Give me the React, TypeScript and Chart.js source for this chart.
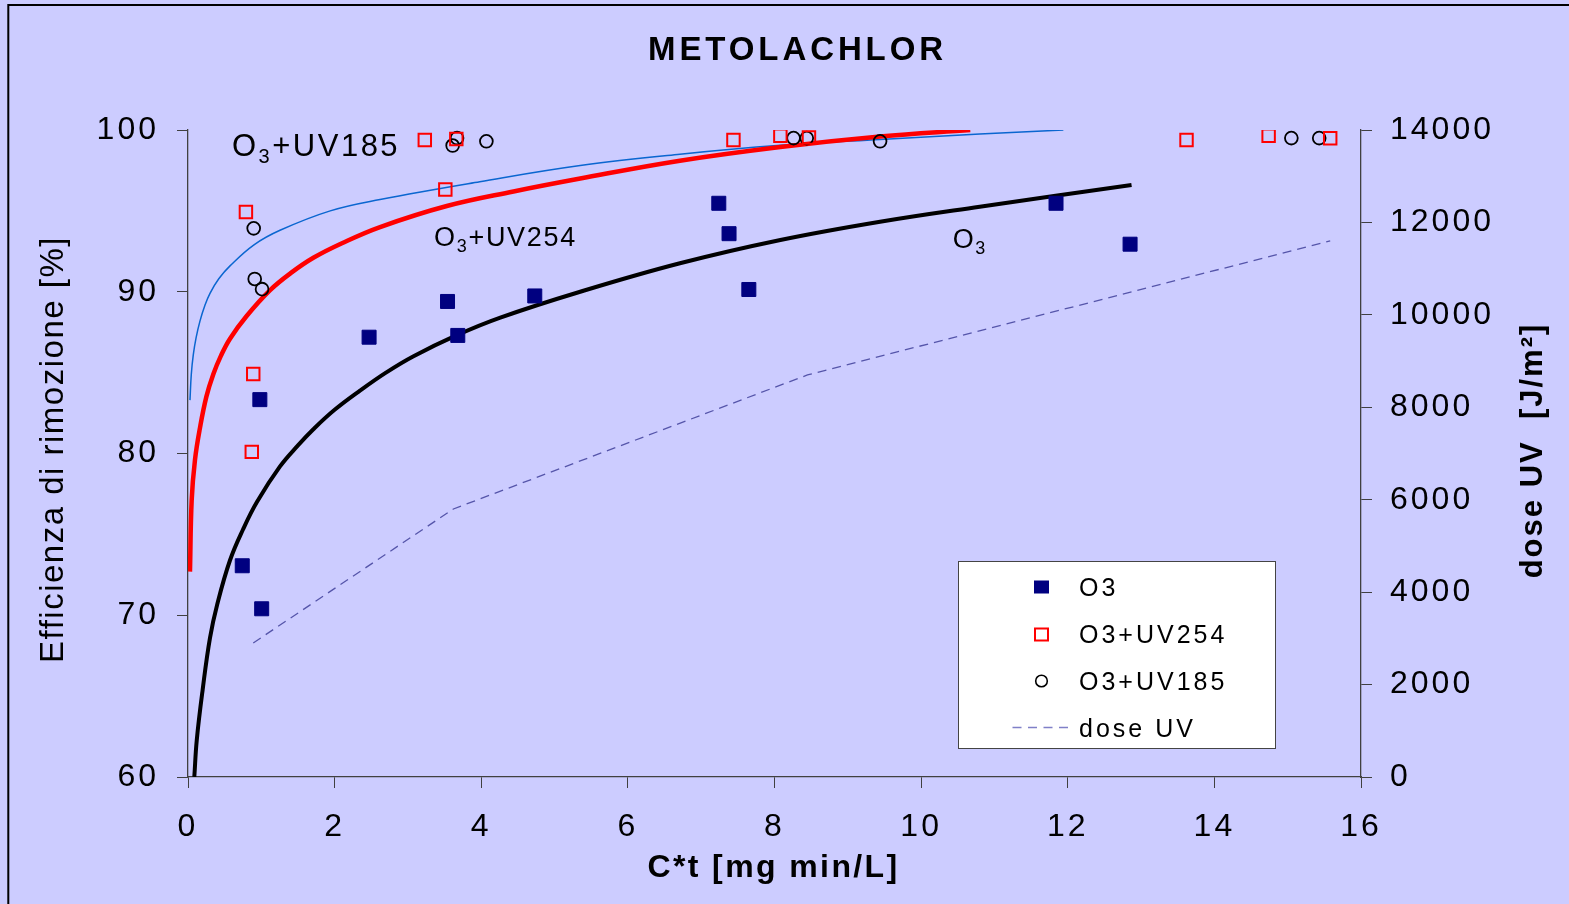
import React, { useEffect, useRef } from 'react';
import { Chart, registerables } from 'chart.js';

Chart.register(...registerables);

const W = 1569;
const H = 904;
const BG = '#CCCCFF';
const FONT = "'Liberation Sans', Arial, sans-serif";

// ---- axis ranges / tick labels ----
const xMin = 0, xMax = 16, xStep = 2;
const yMin = 60, yMax = 100, yStep = 10;
const y2Min = 0, y2Max = 14000, y2Step = 2000;

// ---- measured points ----
const o3X = [0.74, 1.005, 0.98, 2.47, 3.54, 3.68, 4.73, 7.24, 7.38, 7.65, 11.84, 12.85];
const o3Y = [73.06, 70.4, 83.33, 87.19, 89.4, 87.3, 89.74, 95.47, 93.59, 90.14, 95.47, 92.94];

const uv254X = [0.79, 0.89, 0.87, 3.23, 3.66, 3.51, 7.44, 8.08, 8.47, 13.62, 14.74, 15.58];
const uv254Y = [94.93, 84.91, 80.1, 99.38, 99.44, 96.32, 99.38, 99.65, 99.54, 99.38, 99.65, 99.49];

const uv185X = [0.896, 0.91, 1.01, 3.61, 3.67, 4.07, 8.26, 8.44, 9.44, 15.05, 15.43];
const uv185Y = [93.92, 90.79, 90.16, 99.04, 99.5, 99.3, 99.5, 99.5, 99.3, 99.5, 99.5];

// ---- trend curves ----
const trendO3X = [0.086, 0.12, 0.2, 0.3, 0.4, 0.573, 0.75, 0.94, 1.255, 1.5, 1.71, 2.0, 2.35, 2.7, 3.07, 3.66, 4.26, 5.35, 6.71, 8.08, 9.44, 10.8, 12.87];
const trendO3Y = [60, 62.3, 65.4, 68.6, 70.7, 73.4, 75.3, 77.0, 79.2, 80.5, 81.5, 82.7, 83.9, 85.0, 86.0, 87.3, 88.4, 90.0, 91.76, 93.2, 94.33, 95.26, 96.6];

const trend254X = [0.027, 0.05, 0.095, 0.164, 0.25, 0.345, 0.45, 0.573, 0.8, 1.12, 1.4, 1.71, 2.1, 2.62, 3.53, 4.44, 5.35, 6.71, 8.08, 9.44, 10.67];
const trend254Y = [72.7, 77.1, 79.6, 81.6, 83.5, 84.9, 86.05, 87.1, 88.5, 90.1, 91.15, 92.1, 93.0, 94.0, 95.3, 96.2, 97.0, 98.1, 98.95, 99.6, 100];

const trend185X = [0.027, 0.045, 0.072, 0.11, 0.164, 0.23, 0.3, 0.42, 0.573, 0.9, 1.255, 1.94, 2.62, 3.98, 5.35, 6.71, 8.08, 9.44, 10.8, 11.94];
const trend185Y = [83.3, 84.9, 86.1, 87.15, 88.2, 89.15, 89.9, 90.8, 91.6, 92.9, 93.8, 95.0, 95.7, 96.8, 97.8, 98.5, 99.05, 99.42, 99.75, 100];

// ---- UV dose (right axis) ----
const doseX = [0.89, 3.62, 8.45, 15.58];
const doseY = [2900, 5800, 8700, 11600];

// ---- texts ----
const titleText = 'METOLACHLOR';
const xTitle = 'C*t [mg min/L]';
const yTitle = 'Efficienza di rimozione [%]';
const y2Title = 'dose UV  [J/m\u00B2]';
const legendLabels = ['O3', 'O3+UV254', 'O3+UV185', 'dose UV'];

const pts = (xs: number[], ys: number[]) => xs.map((x, i) => ({ x, y: ys[i] }));

type Part = { t: string; sub?: boolean };

function drawRich(ctx: CanvasRenderingContext2D, x: number, y: number, parts: Part[], size: number, subSize: number, subDy: number, ls: number) {
  ctx.save();
  (ctx as any).letterSpacing = ls + 'px';
  ctx.textAlign = 'left';
  ctx.textBaseline = 'alphabetic';
  ctx.fillStyle = '#000';
  let cx = x;
  for (const p of parts) {
    ctx.font = `${p.sub ? subSize : size}px ${FONT}`;
    ctx.fillText(p.t, cx, p.sub ? y + subDy : y);
    cx += ctx.measureText(p.t).width;
  }
  ctx.restore();
}

function drawText(ctx: CanvasRenderingContext2D, text: string, x: number, y: number, font: string, ls: number, rot = 0, align: CanvasTextAlign = 'center') {
  ctx.save();
  (ctx as any).letterSpacing = ls + 'px';
  ctx.translate(x, y);
  if (rot) ctx.rotate(rot);
  ctx.font = font;
  ctx.textAlign = align;
  ctx.textBaseline = 'alphabetic';
  ctx.fillStyle = '#000';
  ctx.fillText(text, 0, 0);
  ctx.restore();
}

const bgPlugin = {
  id: 'bgFrame',
  beforeDraw(chart: any) {
    const ctx = chart.ctx as CanvasRenderingContext2D;
    ctx.save();
    ctx.fillStyle = BG;
    ctx.fillRect(0, 0, chart.width, chart.height);
    ctx.strokeStyle = '#000';
    ctx.lineWidth = 2;
    ctx.beginPath();
    ctx.moveTo(8.3, chart.height + 2);
    ctx.lineTo(8.3, 5);
    ctx.lineTo(chart.width + 2, 5);
    ctx.stroke();
    ctx.restore();
    (ctx as any).letterSpacing = '3px';
  },
};

const overlayPlugin = {
  id: 'overlay',
  afterDraw(chart: any) {
    const ctx = chart.ctx as CanvasRenderingContext2D;
    const xs = chart.scales.x;
    const ys = chart.scales.y;
    const ca = chart.chartArea;

    // titles
    drawText(ctx, titleText, (ca.left + ca.right) / 2 + 23, 60, `bold 33px ${FONT}`, 3.9);
    drawText(ctx, xTitle, (ca.left + ca.right) / 2 - 1, 877, `bold 32px ${FONT}`, 2.4);
    drawText(ctx, yTitle, 63, (ca.top + ca.bottom) / 2 - 4, `33px ${FONT}`, 1.5, -Math.PI / 2);
    drawText(ctx, y2Title, 1542, (ca.top + ca.bottom) / 2 - 3, `bold 31px ${FONT}`, 2, -Math.PI / 2);

    // curve annotations
    drawRich(ctx, xs.getPixelForValue(0.6), ys.getPixelForValue(98.39),
      [{ t: 'O' }, { t: '3', sub: true }, { t: '+UV185' }], 31, 20, 7, 2.5);
    drawRich(ctx, xs.getPixelForValue(3.356), ys.getPixelForValue(92.8),
      [{ t: 'O' }, { t: '3', sub: true }, { t: '+UV254' }], 27, 18, 6, 1.7);
    drawRich(ctx, xs.getPixelForValue(10.43), ys.getPixelForValue(92.7),
      [{ t: 'O' }, { t: '3', sub: true }], 27, 18, 6, 1.7);

    // legend
    const lx = ca.left + 770.5;
    const ly = ca.top + 431.5;
    const lw = 317;
    const lh = 187;
    ctx.save();
    ctx.fillStyle = '#FFFFFF';
    ctx.fillRect(lx, ly, lw, lh);
    ctx.strokeStyle = '#444';
    ctx.lineWidth = 1;
    ctx.strokeRect(lx, ly, lw, lh);
    const ds = chart.data.datasets;
    const mx = lx + 83;
    const tx = lx + 120.5;
    const rows = [25.5, 72.5, 119.5, 166];
    legendLabels.forEach((lab, i) => {
      const cy = ly + rows[i];
      ctx.save();
      if (i === 0) {
        ctx.fillStyle = ds[0].backgroundColor;
        ctx.fillRect(mx - 7.5, cy - 6.5, 15, 13);
      } else if (i === 1) {
        ctx.strokeStyle = ds[1].borderColor;
        ctx.lineWidth = 2;
        ctx.strokeRect(mx - 6.5, cy - 5.5, 13, 12);
      } else if (i === 2) {
        ctx.strokeStyle = ds[2].borderColor;
        ctx.lineWidth = 1.6;
        ctx.beginPath();
        ctx.arc(mx, cy, 5.8, 0, Math.PI * 2);
        ctx.stroke();
      } else {
        ctx.strokeStyle = '#8080C8';
        ctx.lineWidth = 1.5;
        ctx.setLineDash([9, 6.5]);
        ctx.beginPath();
        ctx.moveTo(mx - 29, cy);
        ctx.lineTo(mx + 27, cy);
        ctx.stroke();
      }
      ctx.restore();
      drawText(ctx, lab, tx, cy + 9, `25px ${FONT}`, 3, 0, 'left');
    });
    ctx.restore();
  },
};

export default function App() {
  const ref = useRef<HTMLCanvasElement>(null);

  useEffect(() => {
    const canvas = ref.current!;
    const tickFont = { family: FONT, size: 32 };
    const plainTicks = (v: any) => String(v);
    const axisCommon = {
      grid: { drawOnChartArea: false, drawTicks: true, tickLength: 11, color: '#404040', lineWidth: 1 },
      border: { display: true, color: '#404040', width: 1.3 },
    };
    const curve = { pointRadius: 0, tension: 0.4, cubicInterpolationMode: 'default', fill: false };
    const chart = new Chart(canvas, {
      type: 'scatter',
      data: {
        datasets: [
          {
            label: 'O3', data: pts(o3X, o3Y), yAxisID: 'y',
            pointStyle: 'rect', pointRadius: 9.9, backgroundColor: '#000080', borderColor: '#000080', borderWidth: 1,
          },
          {
            label: 'O3+UV254', data: pts(uv254X, uv254Y), yAxisID: 'y',
            pointStyle: 'rect', pointRadius: 8.8, backgroundColor: 'rgba(0,0,0,0)', borderColor: '#FF0000', borderWidth: 2,
          },
          {
            label: 'O3+UV185', data: pts(uv185X, uv185Y), yAxisID: 'y',
            pointStyle: 'circle', pointRadius: 6.4, backgroundColor: 'rgba(0,0,0,0)', borderColor: '#000000', borderWidth: 1.8,
          },
          {
            type: 'line', label: 'trend O3', data: pts(trendO3X, trendO3Y), yAxisID: 'y',
            borderColor: '#000000', borderWidth: 4, ...curve,
          },
          {
            type: 'line', label: 'trend O3+UV254', data: pts(trend254X, trend254Y), yAxisID: 'y',
            borderColor: '#FF0000', borderWidth: 4.5, ...curve,
          },
          {
            type: 'line', label: 'trend O3+UV185', data: pts(trend185X, trend185Y), yAxisID: 'y',
            borderColor: '#0A66D0', borderWidth: 1.5, ...curve,
          },
          {
            type: 'line', label: 'dose UV', data: pts(doseX, doseY), yAxisID: 'y2',
            borderColor: '#5555AA', borderWidth: 1.3, borderDash: [9, 6], pointRadius: 0, tension: 0, fill: false,
          },
        ] as any,
      },
      options: {
        responsive: false,
        animation: false,
        devicePixelRatio: 1,
        events: [],
        layout: { padding: { top: 130, left: 0, right: 0, bottom: 0 } },
        plugins: { legend: { display: false }, tooltip: { enabled: false }, title: { display: false } },
        scales: {
          x: {
            type: 'linear', position: 'bottom', min: xMin, max: xMax,
            ticks: { stepSize: xStep, font: tickFont, color: '#000', padding: 20, maxRotation: 0, autoSkip: false, callback: plainTicks },
            ...axisCommon,
            afterFit: (s: any) => { s.height = H - 777; },
          },
          y: {
            type: 'linear', position: 'left', min: yMin, max: yMax,
            ticks: { stepSize: yStep, font: tickFont, color: '#000', padding: 18, autoSkip: false, callback: plainTicks },
            ...axisCommon,
            afterFit: (s: any) => { s.width = 188; },
          },
          y2: {
            type: 'linear', position: 'right', min: y2Min, max: y2Max,
            ticks: { stepSize: y2Step, font: tickFont, color: '#000', padding: 18, autoSkip: false, callback: plainTicks },
            ...axisCommon,
            afterFit: (s: any) => { s.width = W - 1361; },
          },
        },
      } as any,
      plugins: [bgPlugin, overlayPlugin],
    });
    return () => chart.destroy();
  }, []);

  return (
    <div style={{ position: 'fixed', left: 0, top: 0, width: W, height: H, background: BG, overflow: 'hidden' }}>
      <canvas ref={ref} width={W} height={H} style={{ display: 'block', width: W, height: H }} />
    </div>
  );
}
